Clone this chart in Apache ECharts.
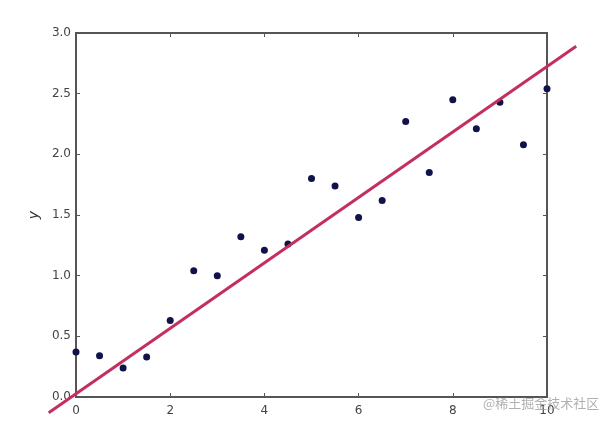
<!DOCTYPE html>
<html>
<head>
<meta charset="utf-8">
<script src="https://cdn.jsdelivr.net/npm/echarts@6/dist/echarts.min.js"></script>
<style>html,body{margin:0;padding:0;background:#fff}#c{width:610px;height:424px}</style>
</head>
<body>
<div id="c"></div>
<script>
const xValues = [0, 0.5, 1, 1.5, 2, 2.5, 3, 3.5, 4, 4.5, 5, 5.5, 6, 6.5, 7, 7.5, 8, 8.5, 9, 9.5, 10];
const yValues = [0.37, 0.34, 0.24, 0.33, 0.63, 1.04, 1.00, 1.32, 1.21, 1.26, 1.80, 1.74, 1.48, 1.62, 2.27, 1.85, 2.45, 2.21, 2.43, 2.08, 2.54];
const fitX = [-0.58, 10.62];
const fitY = [-0.13, 2.89];
const xTicks = [0, 2, 4, 6, 8, 10];
const yTicks = [0.0, 0.5, 1.0, 1.5, 2.0, 2.5, 3.0];
const watermark = '@稀土掘金技术社区';

const points = xValues.map((x, i) => [x, yValues[i]]);
const fitLine = fitX.map((x, i) => [x, fitY[i]]);

const axisLine = { show: true, onZero: false, lineStyle: { color: '#555', width: 2 } };
const tickStyle = { show: true, inside: true, length: 4, lineStyle: { color: '#555', width: 1 } };
const font = 'DejaVu Sans';

// main grid: 0..10 x 0..3 ; extended grid (same scale) for the fit line that runs past the frame
const L = 76, R = 63, T = 33, B = 27, W = 610, H = 424;
const pxX = (W - L - R) / 10, pxY = (H - T - B) / 3;
const ext = { xmin: -1, xmax: 11, ymin: -0.2, ymax: 3.2 };

const chart = echarts.init(document.getElementById('c'), null, { renderer: 'canvas' });
chart.setOption({
  animation: false,
  backgroundColor: '#fff',
  grid: [
    { left: L, right: R, top: T, bottom: B, containLabel: false,
      show: true, borderColor: '#555', borderWidth: 2, backgroundColor: 'transparent' },
    { left: L + ext.xmin * pxX, right: R - (ext.xmax - 10) * pxX,
      top: T - (ext.ymax - 3) * pxY, bottom: B + ext.ymin * pxY, containLabel: false }
  ],
  xAxis: [{
    type: 'value', gridIndex: 0, min: 0, max: 10, interval: 2,
    axisLine: axisLine, axisTick: tickStyle, splitLine: { show: false },
    axisLabel: { color: '#444', fontFamily: font, fontSize: 12, margin: 8,
      formatter: v => xTicks.includes(v) ? String(v) : '' }
  }, {
    type: 'value', gridIndex: 0, position: 'top', min: 0, max: 10, interval: 2,
    axisLine: axisLine, axisTick: tickStyle, splitLine: { show: false },
    axisLabel: { show: false }
  }, {
    type: 'value', gridIndex: 1, min: ext.xmin, max: ext.xmax, show: false
  }],
  yAxis: [{
    type: 'value', gridIndex: 0, min: 0, max: 3, interval: 0.5,
    name: 'y', nameLocation: 'middle', nameGap: 34, nameRotate: 90,
    nameTextStyle: { color: '#333', fontFamily: font, fontSize: 14, fontStyle: 'italic' },
    axisLine: axisLine, axisTick: tickStyle, splitLine: { show: false },
    axisLabel: { color: '#444', fontFamily: font, fontSize: 12, margin: 5,
      formatter: v => yTicks.includes(v) ? v.toFixed(1) : '' }
  }, {
    type: 'value', gridIndex: 0, position: 'right', min: 0, max: 3, interval: 0.5,
    axisLine: axisLine, axisTick: tickStyle, splitLine: { show: false },
    axisLabel: { show: false }
  }, {
    type: 'value', gridIndex: 1, min: ext.ymin, max: ext.ymax, show: false
  }],
  series: [{
    type: 'scatter', xAxisIndex: 0, yAxisIndex: 0, data: points, symbolSize: 7, clip: false,
    itemStyle: { color: '#12124a', opacity: 1 }, z: 3
  }, {
    // binds the top/right frame axes so their ticks are drawn; invisible marks
    type: 'scatter', xAxisIndex: 1, yAxisIndex: 1, data: points, symbolSize: 0,
    silent: true, itemStyle: { opacity: 0 }
  }, {
    type: 'line', xAxisIndex: 2, yAxisIndex: 2, data: fitLine, symbol: 'none', clip: false,
    lineStyle: { color: '#c4305e', width: 3 }, z: 4
  }],
  graphic: [{
    type: 'text', left: 483, top: 397,
    style: { text: watermark, fill: 'rgba(150,150,150,0.75)', font: '13px "Noto Sans CJK SC"' },
    z: 10
  }]
});
</script>
</body>
</html>
